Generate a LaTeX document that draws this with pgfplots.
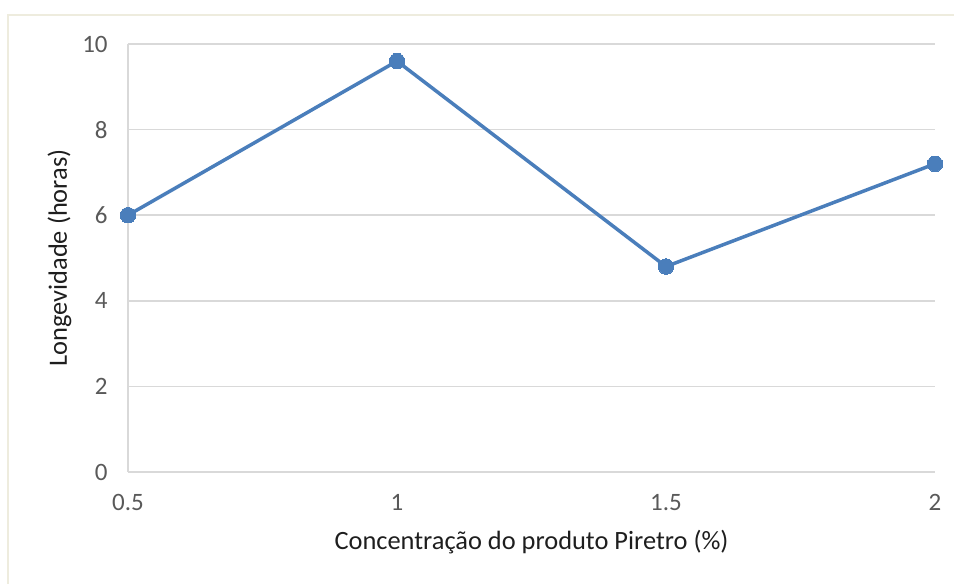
\documentclass[border=0pt]{standalone}
\usepackage{pgfplots}
\pgfplotsset{compat=1.18}
\usepackage{fontspec}
\setmainfont{Carlito}
\definecolor{linecol}{RGB}{74,126,187}
\definecolor{gridcol}{RGB}{217,217,217}
\definecolor{tickcol}{RGB}{89,89,89}
\definecolor{labcol}{RGB}{30,30,30}
\definecolor{framecol}{RGB}{238,236,222}
\begin{document}
\begin{tikzpicture}
\useasboundingbox (0pt,0pt) rectangle (477pt,292pt);
\draw[framecol, line width=1pt] (4pt,0pt) -- (4pt,284.5pt) -- (477pt,284.5pt);
\begin{axis}[
  at={(64pt,56pt)}, anchor=origin,
  scale only axis,
  width=403.5pt, height=214pt,
  xmin=0.5, xmax=2, ymin=0, ymax=10,
  xtick={0.5,1,1.5,2}, ytick={0,2,4,6,8,10},
  xticklabels={0.5,1,1.5,2},
  axis x line*=bottom, axis y line*=left,
  axis line style={draw=gridcol, line width=0.75pt, -},
  ymajorgrids, grid style={draw=gridcol, line width=0.75pt},
  major tick length=0pt,
  /pgf/number format/assume math mode=true,
  ticklabel style={font=\fontsize{12.5}{15}\selectfont, text=tickcol, inner sep=0pt},
  yticklabel style={anchor=east, xshift=-10pt},
  xticklabel style={anchor=base, yshift=-19.5pt},
  xlabel={Concentração do produto Piretro (\%)},
  ylabel={Longevidade (horas)},
  label style={font=\fontsize{13.2}{16}\selectfont, text=labcol},
  xlabel style={at={(axis description cs:0.5,-0.1822)}, anchor=base},
  ylabel style={at={(axis description cs:-0.0756,0.5)}, anchor=base},
  clip=false,
]
\addplot[color=linecol, line width=1.75pt, mark=*, mark size=3.9pt, mark options={fill=linecol, draw=linecol, line width=0pt}]
  coordinates {(0.5,6.0) (1,9.6) (1.5,4.8) (2,7.2)};
\end{axis}
\end{tikzpicture}
\end{document}
